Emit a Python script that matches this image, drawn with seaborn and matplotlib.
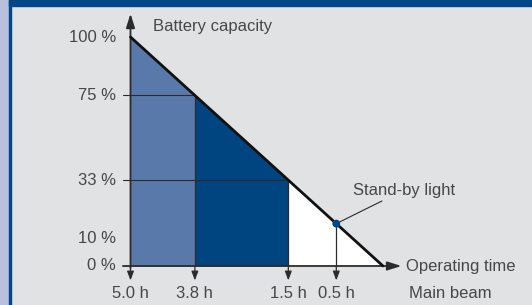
import matplotlib
matplotlib.use("Agg")
import matplotlib.pyplot as plt
from matplotlib.patches import Rectangle
import seaborn as sns
import pandas as pd

# ---- data (schematic diagram) ----
capacity_labels = ["100 %", "75 %", "33 %", "10 %", "0 %"]
capacity_pos = [100, 74.5, 37.5, 11.8, 0]          # drawn height of each capacity level
time_labels = ["5.0 h", "3.8 h", "1.5 h", "0.5 h"]
time_pos = [0, 25.5, 62.5, 81.5]                    # drawn position of each main-beam time
line_x = [0, 100]                                   # discharge line ends
line_y = [100, 0]
standby_x = [81.5]
standby_y = [18.5]
band_colors = ["#5a79ab", "#00457f", "#ffffff"]

sns.set_theme(style="white")
plt.rcParams["font.family"] = ["Liberation Sans", "DejaVu Sans"]

W, H = 532, 305
fig = plt.figure(figsize=(W / 100, H / 100), dpi=100)
fig.patch.set_facecolor("#e1e2e4")
ax = fig.add_axes([0, 0, 1, 1])
ax.set_facecolor("#e1e2e4")
ax.set_axis_off()
# map: x 0 -> px 130.5, 100 -> px 383 ; y 0 -> px 266, 100 -> px 37
sx, sy = 2.525, 2.29
ax.set_xlim(-130.5 / sx, (W - 130.5) / sx)
ax.set_ylim((266 - H) / sy, 266 / sy)

# frame decorations
fig.patches.append(Rectangle((0, 0), 8.5 / W, 1, transform=fig.transFigure,
                             color="#b9c0dc", zorder=0))
fig.patches.append(Rectangle((8.5 / W, 0), 2.2 / W, 1, transform=fig.transFigure,
                             color="#00478a", zorder=0))
fig.patches.append(Rectangle((8.5 / W, 1 - 5.5 / H), 1, 5.5 / H, transform=fig.transFigure,
                             color="#00478a", zorder=0))

# filled bands under the discharge line
df = pd.DataFrame({"x": line_x, "y": line_y})
def line_at(x):
    return line_y[0] + (line_y[1] - line_y[0]) * (x - line_x[0]) / (line_x[1] - line_x[0])

edges = [time_pos[0], time_pos[1], time_pos[2], line_x[1]]
for i, c in enumerate(band_colors):
    xs = [edges[i], edges[i + 1]]
    ax.fill_between(xs, [0, 0], [line_at(v) for v in xs], color=c, lw=0, zorder=1)

lc = "#2b2b2b"
# horizontal guide lines (75 %, 33 %) with ticks
for p in capacity_pos[1:3]:
    xe = line_x[0] + (line_y[0] - p) * (line_x[1] - line_x[0]) / (line_y[0] - line_y[1])
    ax.plot([-3, xe], [p, p], color=lc, lw=0.8, zorder=2)
# vertical guide lines
for t in time_pos[1:]:
    ax.plot([t, t], [0, line_at(t)], color=lc, lw=0.9, zorder=2)

# down arrows under the time axis
for t in time_pos:
    ax.annotate("", xy=(t, -6.3), xytext=(t, 0),
                arrowprops=dict(arrowstyle="-|>,head_length=0.45,head_width=0.17",
                                color=lc, lw=0.9, shrinkA=0, shrinkB=0), zorder=3)

# axes arrows
ax.annotate("", xy=(0, 110.2), xytext=(0, -1),
            arrowprops=dict(arrowstyle="-|>,head_length=0.7,head_width=0.22",
                            color=lc, lw=1.3, shrinkA=0, shrinkB=0), zorder=4)
ax.annotate("", xy=(107.3, 0), xytext=(-3, 0),
            arrowprops=dict(arrowstyle="-|>,head_length=0.7,head_width=0.22",
                            color=lc, lw=1.3, shrinkA=0, shrinkB=0), zorder=4)

# discharge line
sns.lineplot(data=df, x="x", y="y", color="#111111", lw=2.0, ax=ax, zorder=5)

# stand-by light marker and leader
ax.plot([standby_x[0], 99.6], [standby_y[0], 28.4], color=lc, lw=0.8, zorder=5)
sns.scatterplot(x=standby_x, y=standby_y, color="#00478a", s=32, edgecolor="none",
                ax=ax, zorder=6)
ax.set_xlabel("")
ax.set_ylabel("")

tc = "#474747"
fs = 12
for lab, p in zip(capacity_labels, capacity_pos):
    ax.text(-5.8, p, lab, ha="right", va="center", fontsize=fs, color=tc)
for lab, t in zip(time_labels, time_pos):
    ax.text(t, -12.2, lab, ha="center", va="center", fontsize=fs, color=tc)

ax.text(8.9, 104.4, "Battery capacity", ha="left", va="center", fontsize=fs, color=tc)
ax.text(109.0, 0, "Operating time", ha="left", va="center", fontsize=fs, color=tc)
ax.text(110.2, -12.2, "Main beam", ha="left", va="center", fontsize=fs, color=tc)
ax.text(88.1, 33.0, "Stand-by light", ha="left", va="center", fontsize=fs, color=tc)

fig.savefig("out.png", dpi=100, facecolor=fig.get_facecolor())
